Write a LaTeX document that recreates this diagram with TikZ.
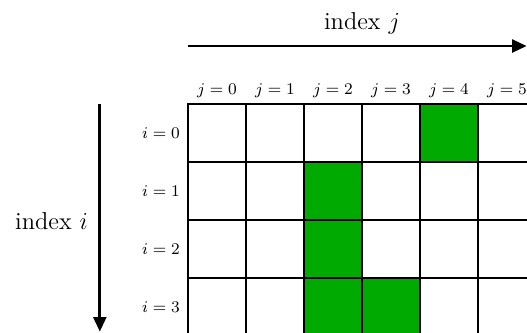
\documentclass[tikz,border=0pt]{standalone}
\usepackage{amsmath,xcolor,tikz}
\usetikzlibrary{arrows.meta,positioning,calc}
\definecolor{cellgreen}{RGB}{0,170,0}
\tikzset{
  cellbox/.style={draw,rectangle,minimum size=1cm,line width=0.9pt,fill=white,inner sep=0pt},
  oncell/.style={cellbox,fill=cellgreen},
  arr/.style={-{Triangle[length=0.25cm,width=0.22cm]},line width=1.3pt},
  idxlbl/.style={font=\fontsize{8.5pt}{10pt}\selectfont},
  axlbl/.style={font=\large,inner sep=0pt}
}

\begin{document}
\begin{tikzpicture}
  \useasboundingbox (-3.241,-3.931) rectangle (5.845,1.793);

  % grid of cells
  \foreach \i in {0,...,3}
    \foreach \j in {0,...,5}
      \node[cellbox] (c\i\j) at (\j+0.5,-\i-0.5) {};
  \foreach \i/\j in {0/4,1/2,2/2,3/2,3/3}
    \node[oncell] (g\i\j) at (c\i\j) {};

  % column and row labels
  \foreach \j in {0,...,5}
    \node[idxlbl,anchor=base] (lj\j) at ($(c0\j.north)+(0,0.155)$) {$j=\j$};
  \foreach \i in {0,...,3}
    \node[idxlbl,anchor=east] (li\i) at (c\i0.west) {$i=\i$};

  % axes
  \coordinate (jstart) at (0,1);
  \coordinate (jend) at (5.84,1);
  \coordinate (istart) at (-1.52,0);
  \coordinate (iend) at (-1.52,-3.925);
  \draw[arr] (jstart) -- (jend);
  \draw[arr] (istart) -- (iend);
  \node[axlbl,anchor=base] (jname) at (3,1.29) {index $j$};
  \node[axlbl,anchor=base east] (iname) at (-1.72,-2.17) {index $i$};
\end{tikzpicture}
\end{document}
